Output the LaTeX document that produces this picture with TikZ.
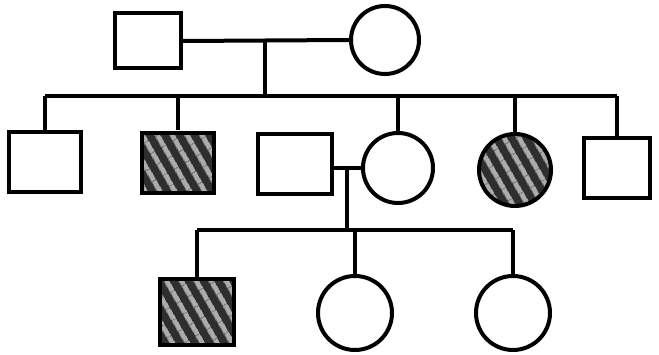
\documentclass[tikz,border=0pt]{standalone}
\usetikzlibrary{patterns.meta}
\tikzset{
  male/.style={draw, rectangle, line width=4pt, minimum width=72pt, minimum height=60pt},
  female/.style={draw, circle, line width=4pt, minimum size=70pt},
  affected/.style={preaction={fill=black!82},
    pattern={Lines[angle=-60,distance=13pt,line width=5pt]}, pattern color=gray!65},
  link/.style={line width=4pt}
}
\begin{document}
\begin{tikzpicture}[x=1pt,y=-1pt]
\useasboundingbox (0,0) rectangle (659,355);
% first generation
\node[male, minimum width=66pt, minimum height=55pt] (p1) at (148,41) {};
\node[female, minimum size=68pt] (p2) at (385,40) {};
\coordinate (mI) at (265,41);
\coordinate (sibI) at (265,96);
\draw[link] (p1.east) -- (p2.west);
\draw[link] (mI) -- (sibI);
% second generation
\node[male] (a) at (45,162) {};
\node[male, affected] (b) at (178,163) {};
\node[male, minimum width=74pt] (c) at (295,164) {};
\node[female] (d) at (398,168) {};
\node[female, affected, minimum size=72pt] (e) at (515,170) {};
\node[male, minimum width=66pt] (f) at (617,168) {};
\draw[link] (a.north |- sibI) -- (f.north |- sibI);
\foreach \k in {a,b,d,e,f}{
  \draw[link] (\k.north) -- (\k.north |- sibI);
}
% second couple and their children
\coordinate (mII) at (347,168);
\coordinate (sibII) at (347,230);
\draw[link] (c.east |- mII) -- (d.west);
\draw[link] (mII) -- (sibII);
\node[male, affected, minimum width=74pt, minimum height=66pt] (g) at (197,312) {};
\node[female, minimum size=74pt] (h) at (355,313) {};
\node[female, minimum size=74pt] (i) at (513,313) {};
\draw[link] (g.north |- sibII) -- (i.north |- sibII);
\foreach \k in {g,h,i}{
  \draw[link] (\k.north) -- (\k.north |- sibII);
}
\end{tikzpicture}
\end{document}
